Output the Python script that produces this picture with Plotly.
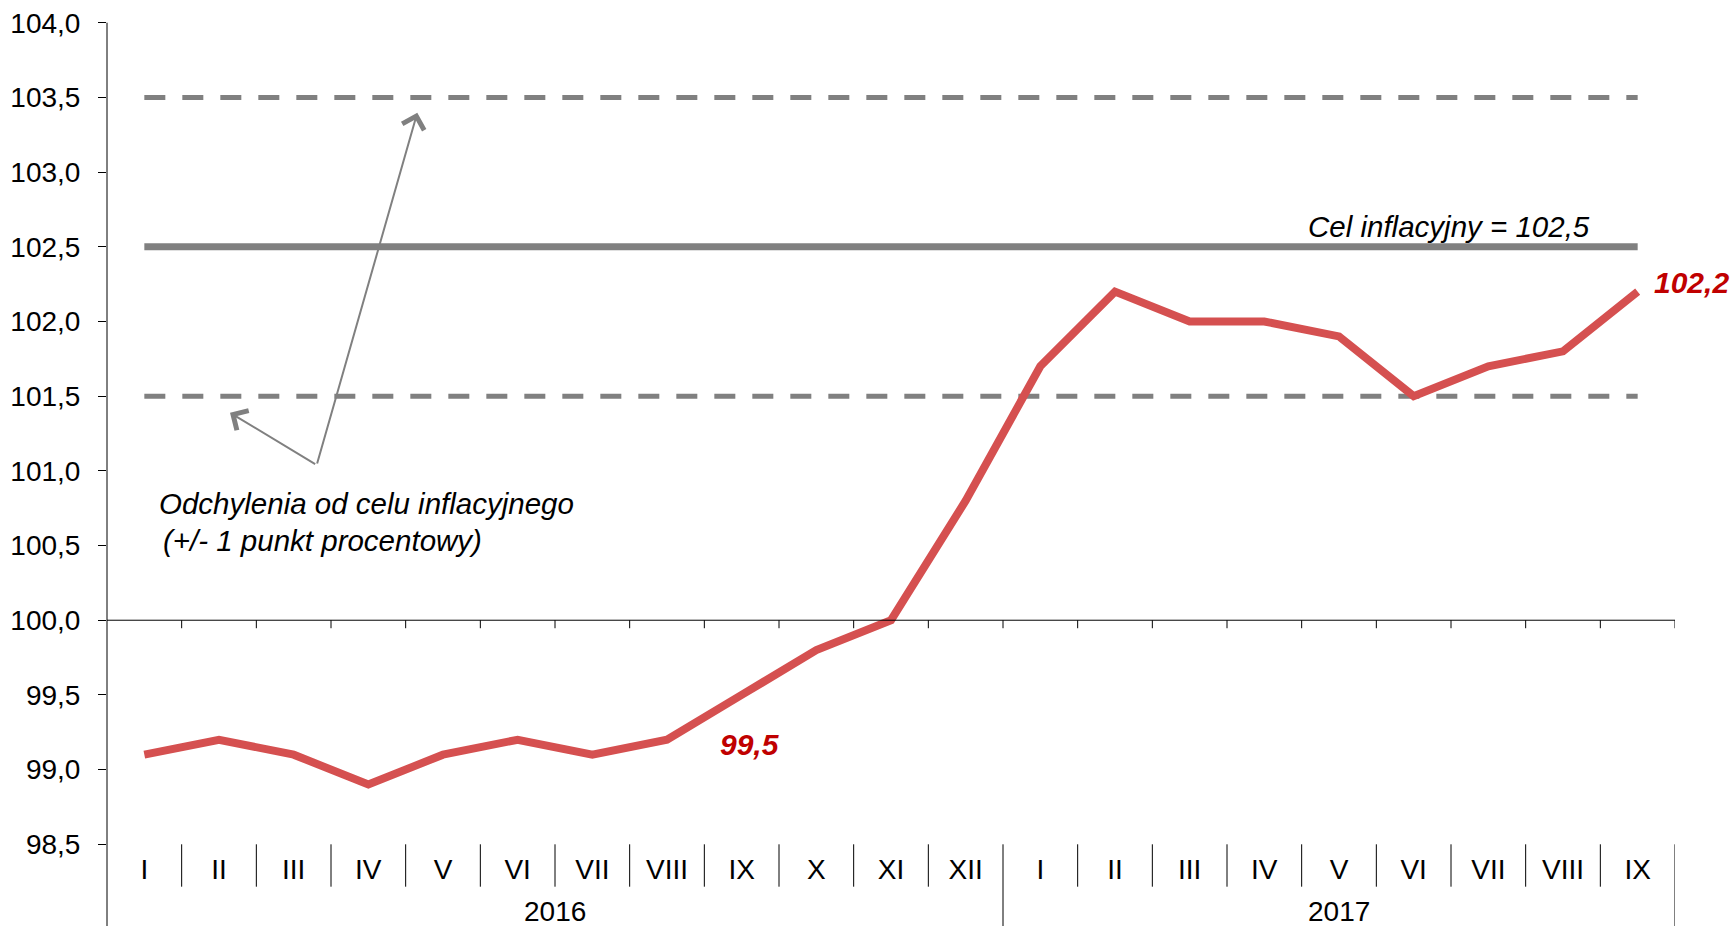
import plotly.graph_objects as go

# ---- data ----
months = ["I", "II", "III", "IV", "V", "VI", "VII", "VIII", "IX", "X", "XI", "XII",
          "I", "II", "III", "IV", "V", "VI", "VII", "VIII", "IX"]
years = ["2016", "2017"]
year_counts = [12, 9]
cpi = [99.1, 99.2, 99.1, 98.9, 99.1, 99.2, 99.1, 99.2, 99.5, 99.8, 100.0, 100.8,
       101.7, 102.2, 102.0, 102.0, 101.9, 101.5, 101.7, 101.8, 102.2]
target = 102.5
band_low = 101.5
band_high = 103.5
y_ticks = [98.5, 99.0, 99.5, 100.0, 100.5, 101.0, 101.5, 102.0, 102.5, 103.0, 103.5, 104.0]
label_idx = [8, 20]

# ---- geometry ----
W, H = 1736, 926
ML, MR = 107, 61
PY_LOW, PY_HIGH = 844.3, 22.7  # pixel rows of 98.5 and 104.0
ymin, ymax_tick = 98.5, 104.0
upp = (ymax_tick - ymin) / (PY_LOW - PY_HIGH)
ytop = ymax_tick + PY_HIGH * upp
dom0 = (H - PY_LOW) / H


def frac(v):
    return dom0 + (v - ymin) / (ytop - ymin) * (1 - dom0)


def pfrac(px):
    return (H - px) / H


FONT = "Liberation Sans, Arial, sans-serif"
n = len(cpi)
xs = list(range(n))
cw = (W - ML - MR) / n


def dx(px):
    return (px - ML) / cw - 0.5


def dy(py):
    return ymax_tick - (py - PY_HIGH) * upp


fig = go.Figure()

# band and target lines
for yv in (band_high, band_low):
    fig.add_trace(go.Scatter(x=[0, n - 1], y=[yv] * 2, mode="lines",
                             line=dict(color="#808080", width=5, dash="21px,17px"),
                             hoverinfo="skip", showlegend=False))
fig.add_trace(go.Scatter(x=[0, n - 1], y=[target] * 2, mode="lines",
                         line=dict(color="#808080", width=7),
                         hoverinfo="skip", showlegend=False))
# CPI line
fig.add_trace(go.Scatter(x=xs, y=cpi, mode="lines",
                         line=dict(color="#D55050", width=8),
                         showlegend=False))

shapes = []
# y axis line
shapes.append(dict(type="line", xref="paper", yref="paper", x0=0, x1=0,
                   y0=0, y1=frac(ymax_tick), line=dict(color="black", width=1)))
# category separators
bounds = [i + 0.5 for i in range(n)]
year_ends = []
acc = 0
for c in year_counts:
    acc += c
    year_ends.append(acc - 0.5)
for b in bounds:
    y0 = 0 if b in year_ends else pfrac(886.7)
    shapes.append(dict(type="line", xref="x", yref="paper", x0=b, x1=b,
                       y0=y0, y1=dom0, line=dict(color="black", width=1)))
# x-axis line at 100 with tick marks
shapes.append(dict(type="line", xref="paper", yref="y", x0=0, x1=1,
                   y0=100, y1=100, line=dict(color="black", width=1)))
for b in bounds:
    shapes.append(dict(type="line", xref="x", yref="paper", x0=b, x1=b,
                       y0=frac(100) - 8 / H, y1=frac(100),
                       line=dict(color="black", width=1)))

annotations = []
# year labels
start = 0
for yl, c in zip(years, year_counts):
    annotations.append(dict(x=start + (c - 1) / 2, y=pfrac(911.5), xref="x", yref="paper",
                            text=yl, showarrow=False, xanchor="center", yanchor="middle",
                            font=dict(family=FONT, size=28, color="black")))
    start += c

# target label
annotations.append(dict(x=dx(1449), y=dy(226), xref="x", yref="y",
                        text="<i>Cel inflacyjny = 102,5</i>",
                        showarrow=False, xanchor="center", yanchor="middle",
                        font=dict(family=FONT, size=29.5, color="black")))
# band labels
annotations.append(dict(x=dx(156.5), y=dy(503), xref="x", yref="y",
                        text="<i>Odchylenia od celu inflacyjnego</i>",
                        showarrow=False, xanchor="left", yanchor="middle",
                        font=dict(family=FONT, size=29.5, color="black")))
annotations.append(dict(x=dx(160.5), y=dy(540), xref="x", yref="y",
                        text="<i>(+/- 1 punkt procentowy)</i>",
                        showarrow=False, xanchor="left", yanchor="middle",
                        font=dict(family=FONT, size=29.5, color="black")))
# arrows
for tip in [(417.3, 112.7), (230, 412.7)]:
    annotations.append(dict(x=dx(tip[0]), y=dy(tip[1]), xref="x", yref="y",
                            ax=dx(316.7), ay=dy(465), axref="x", ayref="y",
                            text="", showarrow=True, arrowhead=4, arrowsize=2.2,
                            arrowwidth=2, arrowcolor="#808080", standoff=0))
# data labels
shifts = {8: (8, -50), 20: (54, 9)}
for i in label_idx:
    sx, sy = shifts[i]
    annotations.append(dict(x=i, y=cpi[i], xref="x", yref="y",
                            text="<b><i>" + f"{cpi[i]:.1f}".replace(".", ",") + "</i></b>",
                            showarrow=False, xanchor="center", yanchor="middle",
                            xshift=sx, yshift=sy,
                            font=dict(family=FONT, size=30, color="#C00000")))

fig.update_layout(
    width=W, height=H, autosize=False,
    margin=dict(l=ML, r=MR, t=0, b=0, pad=0, autoexpand=False),
    paper_bgcolor="white", plot_bgcolor="white",
    showlegend=False,
    shapes=shapes, annotations=annotations,
    xaxis=dict(range=[-0.5, n - 0.5], tickvals=xs, ticktext=months,
               showgrid=False, zeroline=False, showline=False, ticks="",
               tickfont=dict(family=FONT, size=28, color="black"),
               ticklabelstandoff=6, anchor="y", fixedrange=True, automargin=False),
    yaxis=dict(range=[ymin, ytop], domain=[dom0, 1], tickvals=y_ticks,
               ticktext=[f"{v:.1f}".replace(".", ",") for v in y_ticks],
               showgrid=False, zeroline=False, showline=False,
               ticks="outside", ticklen=8, tickcolor="black", tickwidth=1,
               tickfont=dict(family=FONT, size=28, color="black"),
               ticklabelstandoff=12, fixedrange=True, automargin=False),
)

fig.write_html("out.html", config={"displayModeBar": False, "responsive": False},
               post_script="document.body.style.margin='0';document.body.style.padding='0';"
                           "document.body.style.overflow='hidden';")
